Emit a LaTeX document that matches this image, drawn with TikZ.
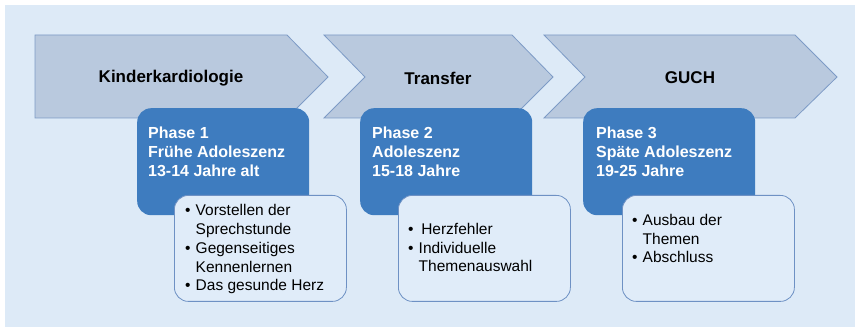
\documentclass[tikz,border=0pt]{standalone}
\usepackage{fontspec}
\setmainfont{Liberation Sans}
\usepackage{xcolor}
\usetikzlibrary{positioning, calc}

\definecolor{bgblue}{RGB}{221,234,247}
\definecolor{chevfill}{RGB}{185,201,222}
\definecolor{chevline}{RGB}{125,155,198}
\definecolor{phaseblue}{RGB}{62,124,191}
\definecolor{notefill}{RGB}{224,236,249}
\definecolor{noteline}{RGB}{110,145,196}

\newcommand{\bul}{\makebox[10.5pt][l]{\textbullet}}
\newcommand{\ind}{\hspace*{10.5pt}}

\begin{document}
\begin{tikzpicture}[x=1pt, y=-1pt,
  chev/.style={draw=chevline, fill=chevfill, line width=0.8pt},
  title/.style={font=\fontsize{17}{20}\selectfont\bfseries},
  phasebox/.style={fill=phaseblue, rounded corners=14pt, minimum width=172pt, minimum height=107pt, inner sep=0pt, anchor=north west},
  notebox/.style={draw=noteline, fill=notefill, line width=0.8pt, rounded corners=14pt, minimum width=172pt, minimum height=106pt, inner sep=0pt, anchor=north west},
  phasetxt/.style={font=\fontsize{16}{19}\selectfont\bfseries, text=white, align=left, inner sep=0pt, anchor=base west},
  notetxt/.style={font=\fontsize{15.5}{18.8}\selectfont, align=left, inner sep=0pt, anchor=base west},
]
\useasboundingbox (0,0) rectangle (855,328);
\fill[bgblue] (5,5) rectangle (855,327);

% phase arrows
\draw[chev] (35,35) -- (287,35) -- (328,77) -- (287,118) -- (35,118) -- cycle;
\draw[chev] (324,35) -- (512,35) -- (553,77) -- (512,118) -- (324,118) -- (365,77) -- cycle;
\draw[chev] (544,35) -- (795,35) -- (837,77) -- (795,118) -- (544,118) -- (585,77) -- cycle;

\node[title] (kinder) at (171,78) {Kinderkardiologie};
\node[title] (transfer) at (438,78) {Transfer};
\node[title] (guch) at (690,78) {GUCH};

% dark phase boxes
\node[phasebox] (p1) at (137,108) {};
\node[phasebox] (p2) at (360,108) {};
\node[phasebox] (p3) at (583,108) {};

% base anchor sits on the last line
\node[phasetxt] (p1txt) at ($(p1.north west)+(11,69)$) {Phase 1\\Frühe Adoleszenz\\13-14 Jahre alt};
\node[phasetxt] (p2txt) at ($(p2.north west)+(12,69)$) {Phase 2\\Adoleszenz\\15-18 Jahre};
\node[phasetxt] (p3txt) at ($(p3.north west)+(13,69)$) {Phase 3\\Späte Adoleszenz\\19-25 Jahre};

% topic boxes
\node[notebox] (n1) at ($(p1.north west)+(37,87)$) {};
\node[notebox] (n2) at ($(p2.north west)+(38,87)$) {};
\node[notebox] (n3) at ($(p3.north west)+(39,87)$) {};

\node[notetxt] (n1txt) at ($(n1.north west)+(11,96)$) {\bul Vorstellen der\\\ind Sprechstunde\\\bul Gegenseitiges\\\ind Kennenlernen\\\bul Das gesunde Herz};
\node[notetxt] (n2txt) at ($(n2.north west)+(10,77)$) {\bul\,Herzfehler\\\bul Individuelle\\\ind Themenauswahl};
\node[notetxt] (n3txt) at ($(n3.north west)+(10,68)$) {\bul Ausbau der\\\ind Themen\\\bul Abschluss};
\end{tikzpicture}
\end{document}
